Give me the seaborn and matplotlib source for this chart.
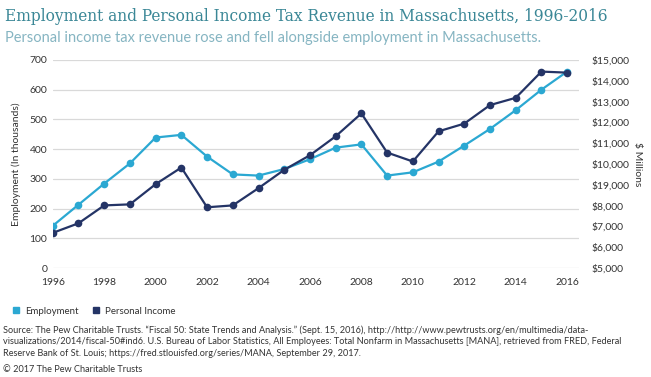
import numpy as np
import pandas as pd
import matplotlib
matplotlib.use("Agg")
import matplotlib.pyplot as plt
import seaborn as sns
from matplotlib.lines import Line2D

# ─── Data ────────────────────────────────────────────────────────────────────
years = list(range(1996, 2017))
employment = [142, 213, 284, 352, 439, 448, 375, 315, 311, 333, 366,
              405, 416, 311, 322, 358, 412, 468, 531, 600, 661]
personal_income = [6690, 7150, 8010, 8060, 9030, 9830, 7920, 8010, 8840, 9720, 10420,
                   11330, 12430, 10550, 10120, 11570, 11940, 12830, 13180, 14440, 14390]

left_ticks = [0, 100, 200, 300, 400, 500, 600, 700]
right_ticks = list(range(5000, 16000, 1000))
right_tick_labels = ["$5,000", "$6,000", "$7,000", "$8,000", "$19,000", "$10,000",
                     "$11,000", "$12,000", "$13,000", "$14,000", "$15,000"]
x_ticks = list(range(1996, 2017, 2))

title = "Employment and Personal Income Tax Revenue in Massachusetts, 1996-2016"
subtitle = "Personal income tax revenue rose and fell alongside employment in Massachusetts."
source = ("Source: The Pew Charitable Trusts. \u201cFiscal 50: State Trends and Analysis.\u201d (Sept. 15, 2016), "
          "http://http://www.pewtrusts.org/en/multimedia/data-\n"
          "visualizations/2014/fiscal-50#ind6. U.S. Bureau of Labor Statistics, All Employees: Total Nonfarm "
          "in Massachusetts [MANA], retrieved from FRED, Federal\n"
          "Reserve Bank of St. Louis; https://fred.stlouisfed.org/series/MANA, September 29, 2017.")
copyright = "\u00a9 2017 The Pew Charitable Trusts"

df = pd.DataFrame({"year": years, "employment": employment, "income": personal_income})

LIGHT = "#2ba8d2"
DARK = "#243466"
TXT = "#333333"

sns.set_theme(style="white")
plt.rcParams['font.family'] = ['Lato', 'DejaVu Sans']

fig = plt.figure(figsize=(6.51, 3.77), dpi=100)
ax = fig.add_axes([0.081, 0.289, 0.808, 0.552])
ax2 = ax.twinx()

sns.lineplot(data=df, x="year", y="employment", ax=ax, color=LIGHT, marker="o",
             markersize=5.5, markeredgewidth=0, linewidth=1.6, zorder=3)
sns.lineplot(data=df, x="year", y="income", ax=ax2, color=DARK, marker="o",
             markersize=5.5, markeredgewidth=0, linewidth=1.6, zorder=3)

ax.set_xlim(1996, 2016.45)
ax.set_ylim(0, 700)
ax.set_yticks(left_ticks)
ax.set_xticks(x_ticks)
ax.set_xticklabels([str(y) for y in x_ticks])
ax.grid(axis='y', color='#d9d9d9', linewidth=0.9)
ax.set_axisbelow(True)
ax.set_xlabel("")
ax.set_ylabel("Employment (In thousands)", fontsize=7.5, color=TXT, labelpad=6)

ax2.set_ylim(5000, 15000)
ax2.set_yticks(right_ticks)
ax2.set_yticklabels(right_tick_labels)
ax2.set_ylabel("$ Millions", fontsize=7.5, color=TXT, rotation=270, labelpad=9)
ax2.grid(False)

for a in (ax, ax2):
    for s in a.spines.values():
        s.set_visible(False)
    a.tick_params(axis='both', length=0, labelsize=7.5, labelcolor=TXT, pad=4)
ax.tick_params(axis='x', pad=7)
ax2.tick_params(axis='y', pad=9)

# titles
fig.text(0.008, 0.978, title, fontsize=12.3, color="#3a8796",
         family=['DejaVu Serif'], fontstretch='condensed', va='top', ha='left')
fig.text(0.008, 0.918, subtitle, fontsize=10.5, color="#86b5c2",
         va='top', ha='left')

# legend
handles = [Line2D([], [], marker='s', linestyle='', color=LIGHT, markersize=5),
           Line2D([], [], marker='s', linestyle='', color=DARK, markersize=5)]
fig.legend(handles, ["Employment", "Personal Income"], loc='center left',
           bbox_to_anchor=(-0.004, 0.175), ncol=2, frameon=False, fontsize=7,
           handletextpad=0.0, columnspacing=0.7, labelcolor=TXT)

fig.text(0.005, 0.137, source, fontsize=6.6, color=TXT, va='top', ha='left', linespacing=1.35)
fig.text(0.005, 0.02, copyright, fontsize=6.6, color=TXT, va='center', ha='left')

fig.savefig("out.png", dpi=100)
